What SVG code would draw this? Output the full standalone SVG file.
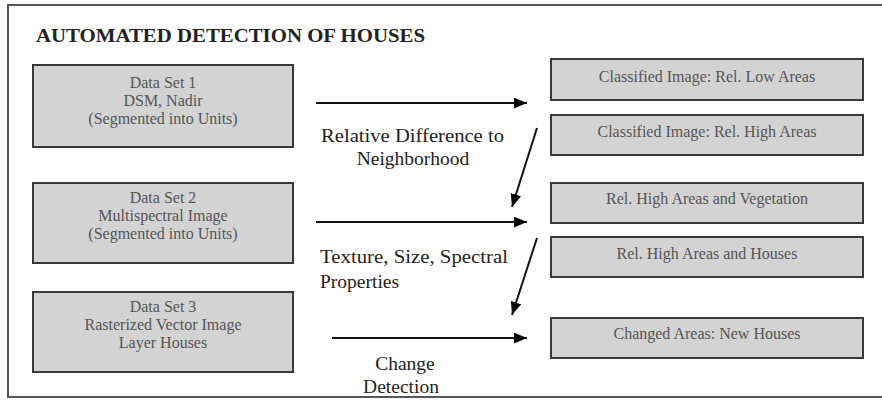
<svg xmlns="http://www.w3.org/2000/svg" width="882" height="401" viewBox="0 0 882 401">
<defs>
<marker id="ah" viewBox="0 0 12 10" refX="12" refY="5" markerWidth="6.5" markerHeight="5.5" orient="auto" markerUnits="strokeWidth">
<path d="M0,0 L12,5 L0,10 Z" fill="#000"/>
</marker>
<style>
.box{fill:#d3d3d3;stroke:#3a3a3a;stroke-width:2}
.bt{font-family:"Liberation Serif",serif;font-size:16px;fill:#555;text-anchor:middle}
.lbl{font-family:"Liberation Serif",serif;font-size:19.5px;fill:#222}
.ln{stroke:#111;stroke-width:2;fill:none;marker-end:url(#ah)}
</style>
</defs>
<rect x="0" y="0" width="882" height="401" fill="#fff"/>
<rect x="8" y="5" width="880" height="392" fill="#fff" stroke="#555" stroke-width="2"/>
<text x="36" y="42" font-family="Liberation Serif,serif" font-weight="bold" font-size="18" fill="#222" textLength="389" lengthAdjust="spacingAndGlyphs">AUTOMATED DETECTION OF HOUSES</text>

<g id="ds1"><rect class="box" x="33" y="65" width="260" height="82"/>
<text class="bt" x="163" y="88">Data Set 1</text><text class="bt" x="163" y="106">DSM, Nadir</text><text class="bt" x="163" y="124">(Segmented into Units)</text></g>
<g id="ds2"><rect class="box" x="33" y="183" width="260" height="80"/>
<text class="bt" x="163" y="203">Data Set 2</text><text class="bt" x="163" y="221">Multispectral Image</text><text class="bt" x="163" y="239">(Segmented into Units)</text></g>
<g id="ds3"><rect class="box" x="33" y="292" width="260" height="80"/>
<text class="bt" x="163" y="312">Data Set 3</text><text class="bt" x="163" y="330">Rasterized Vector Image</text><text class="bt" x="163" y="348">Layer Houses</text></g>

<g id="r1"><rect class="box" x="551" y="59" width="312" height="41"/><text class="bt" x="707" y="82">Classified Image: Rel. Low Areas</text></g>
<g id="r2"><rect class="box" x="551" y="115" width="312" height="40"/><text class="bt" x="707" y="137">Classified Image:  Rel. High Areas</text></g>
<g id="r3"><rect class="box" x="551" y="183" width="312" height="40"/><text class="bt" x="707" y="204">Rel. High Areas and Vegetation</text></g>
<g id="r4"><rect class="box" x="551" y="237" width="312" height="40"/><text class="bt" x="707" y="259">Rel. High Areas and Houses</text></g>
<g id="r5"><rect class="box" x="551" y="318" width="312" height="40"/><text class="bt" x="707" y="339">Changed Areas: New Houses</text></g>

<g id="connectors">
<line class="ln" x1="316" y1="103" x2="527" y2="103"/>
<line class="ln" x1="316" y1="222" x2="527" y2="222"/>
<line class="ln" x1="332" y1="338" x2="527" y2="338"/>
<line class="ln" x1="537" y1="128" x2="512" y2="207"/>
<line class="ln" x1="537" y1="238" x2="512" y2="315"/>
</g>

<g id="labels">
<text class="lbl" x="321" y="142" textLength="183" lengthAdjust="spacingAndGlyphs">Relative Difference to</text>
<text class="lbl" x="413" y="165" text-anchor="middle">Neighborhood</text>
<text class="lbl" x="320" y="263" textLength="188" lengthAdjust="spacingAndGlyphs">Texture, Size, Spectral</text>
<text class="lbl" x="320" y="288">Properties</text>
<text class="lbl" x="405" y="370" text-anchor="middle">Change</text>
<text class="lbl" x="401" y="393" text-anchor="middle">Detection</text>
</g>
</svg>
